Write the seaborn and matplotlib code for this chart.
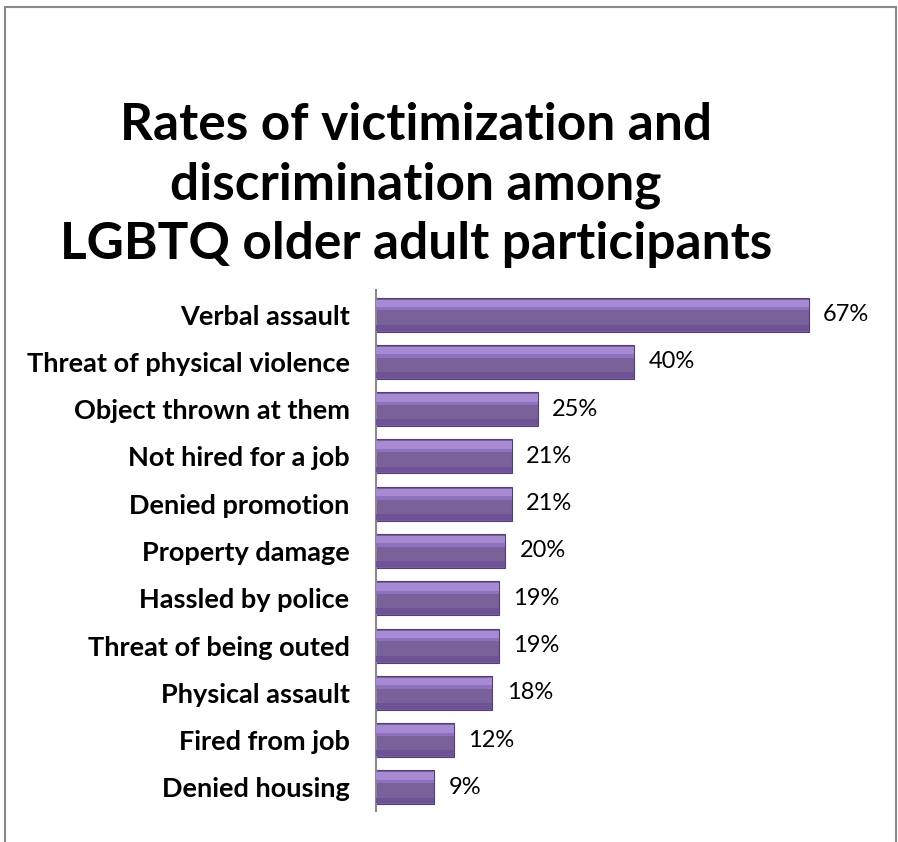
import seaborn as sns
import pandas as pd
import matplotlib.pyplot as plt
from matplotlib.patches import Rectangle

categories = ["Verbal assault", "Threat of physical violence", "Object thrown at them",
              "Not hired for a job", "Denied promotion", "Property damage",
              "Hassled by police", "Threat of being outed", "Physical assault",
              "Fired from job", "Denied housing"]
rates = [67, 40, 25, 21, 21, 20, 19, 19, 18, 12, 9]

df = pd.DataFrame({"category": categories, "rate": rates})

sns.set_style("white")
plt.rcParams['font.family'] = ['Lato', 'DejaVu Sans']
plt.rcParams['text.color'] = 'black'
plt.rcParams['ytick.color'] = 'black'

fig = plt.figure(figsize=(8.98, 8.42), dpi=100)
ax = fig.add_axes([376 / 898, 1 - 811 / 842, 504 / 898, 521 / 842])

sns.barplot(data=df, x="rate", y="category", color="#7857a3", width=0.72,
            edgecolor="#553c7a", linewidth=0.8, ax=ax)

# bevel look: light strip near the top, darker strip at the bottom
for bar in ax.patches[:len(rates)]:
    x, y = bar.get_x(), bar.get_y()
    w, h = bar.get_width(), bar.get_height()
    ax.add_patch(Rectangle((x, y + h * 0.06), w, h * 0.22, color="#a68bd3", lw=0, zorder=3))
    ax.add_patch(Rectangle((x, y + h * 0.28), w, h * 0.1, color="#8f72bd", lw=0, zorder=3))
    ax.add_patch(Rectangle((x, y + h * 0.8), w, h * 0.17, color="#6d5296", lw=0, zorder=3))

for i, v in enumerate(rates):
    ax.text(v + 2.2, i, f"{v}%", va="center", ha="left", fontsize=17)

ax.set_xlim(0, 78)
ax.set_ylim(10.5, -0.52)
ax.set_xlabel("")
ax.set_ylabel("")
ax.set_xticks([])
ax.tick_params(axis="y", length=0, pad=19)
for lab in ax.get_yticklabels():
    lab.set_fontweight("bold")
    lab.set_fontsize(19.5)
for s in ["top", "right", "bottom"]:
    ax.spines[s].set_visible(False)
ax.spines["left"].set_color("#888888")
ax.spines["left"].set_linewidth(1.5)

fig.text(416 / 898, 1 - 185 / 842, "Rates of victimization and\ndiscrimination among\nLGBTQ older adult participants",
         ha="center", va="center", fontsize=37, fontweight="bold", linespacing=1.32)

# outer border
fig.patches.append(Rectangle((5 / 898, -0.01), 891 / 898, 1 - 7 / 842 + 0.01, transform=fig.transFigure,
                             fill=False, edgecolor="#888888", linewidth=1.5))

fig.savefig("out.png", dpi=100)
